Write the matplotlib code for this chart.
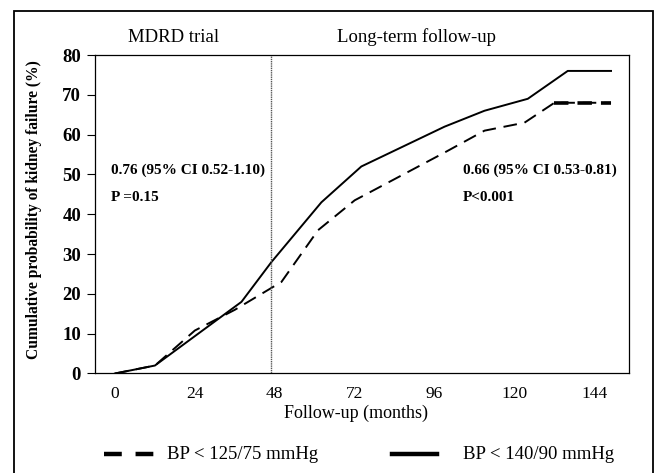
import matplotlib.pyplot as plt
from matplotlib.lines import Line2D
from matplotlib.patches import Rectangle

# cumulative probability of kidney failure
months_strict = [0, 12, 24, 36, 47, 50, 61, 72, 99, 111, 123, 132, 149]
prob_strict = [0, 2, 10.8, 16, 21.5, 23, 36, 43.5, 55.5, 61, 63, 68, 68]

months_usual = [0, 12, 38, 47, 62, 74, 99, 111, 124, 136, 149]
prob_usual = [0, 2, 18, 28, 43, 52, 62, 66, 69, 76, 76]

xticks = [0, 24, 48, 72, 96, 120, 144]
yticks = [0, 10, 20, 30, 40, 50, 60, 70, 80]
trial_end = 47

label_strict = 'BP < 125/75 mmHg'
label_usual = 'BP < 140/90 mmHg'

plt.rcParams['font.family'] = ['Liberation Serif', 'DejaVu Serif']

W, H = 656, 473
fig = plt.figure(figsize=(W / 100, H / 100), dpi=100)
ax = fig.add_axes([95 / W, 1 - 373.5 / H, (629 - 95) / W, (373.5 - 55) / H])

ax.plot(months_strict, prob_strict, color='black', lw=1.4, dashes=(7, 4))
# the plateau at the end is drawn heavier in the original
ax.plot(months_strict[-2:], prob_strict[-2:], color='black', lw=2.6, dashes=(4, 2.5))
ax.plot(months_usual, prob_usual, color='black', lw=1.4)

ax.axvline(trial_end, color='#555555', lw=1.0, linestyle=(0, (1, 0.6)))

ax.set_xlim(-6, 154.4)
ax.set_ylim(0, 80)
ax.set_xticks(xticks)
ax.set_yticks(yticks)
ax.tick_params(axis='x', length=0, pad=9, labelsize=12.5)
ax.tick_params(axis='y', length=6, width=0.8, pad=4, labelsize=13.5)
for lab in ax.get_yticklabels():
    lab.set_fontweight('bold')
for s in ax.spines.values():
    s.set_linewidth(0.9)

# hazard ratio notes
ax.text(-1.2, 51, '0.76 (95% CI 0.52-1.10)', fontsize=11, fontweight='bold', va='center')
ax.text(-1.2, 44.1, 'P =0.15', fontsize=11, fontweight='bold', va='center')
ax.text(104.5, 51, '0.66 (95% CI 0.53-0.81)', fontsize=11, fontweight='bold', va='center')
ax.text(104.5, 44.1, 'P<0.001', fontsize=11, fontweight='bold', va='center')

fig.text(174 / W, 1 - 42 / H, 'MDRD trial', fontsize=13.5, ha='center', va='baseline')
fig.text(417 / W, 1 - 42 / H, 'Long-term follow-up', fontsize=13.5, ha='center', va='baseline')
fig.text(356 / W, 1 - 418 / H, 'Follow-up (months)', fontsize=13, ha='center', va='baseline')
fig.text(34 / W, 1 - 210 / H, 'Cumulative probability of kidney failure (%)',
         fontsize=11.2, fontweight='bold', rotation=90, ha='center', va='center')

# legend drawn by hand to match the spacing of the original
ly = 1 - 454 / H
fig.add_artist(Line2D([103.5 / W, 154 / W], [ly, ly], color='black', lw=3.2,
                      dashes=(4.0, 3.1), transform=fig.transFigure))
fig.text(167 / W, ly, label_strict, fontsize=13.5, va='center')
fig.add_artist(Line2D([391.5 / W, 437 / W], [ly, ly], color='black', lw=3.2,
                      transform=fig.transFigure))
fig.text(463 / W, ly, label_usual, fontsize=13.5, va='center')

# outer frame around the whole figure
fig.add_artist(Rectangle((13.5 / W, -0.02), (653 - 13.5) / W, 1.02 - 11 / H,
                         fill=False, lw=1.3, edgecolor='black', transform=fig.transFigure))

fig.savefig('out.png', dpi=100)
